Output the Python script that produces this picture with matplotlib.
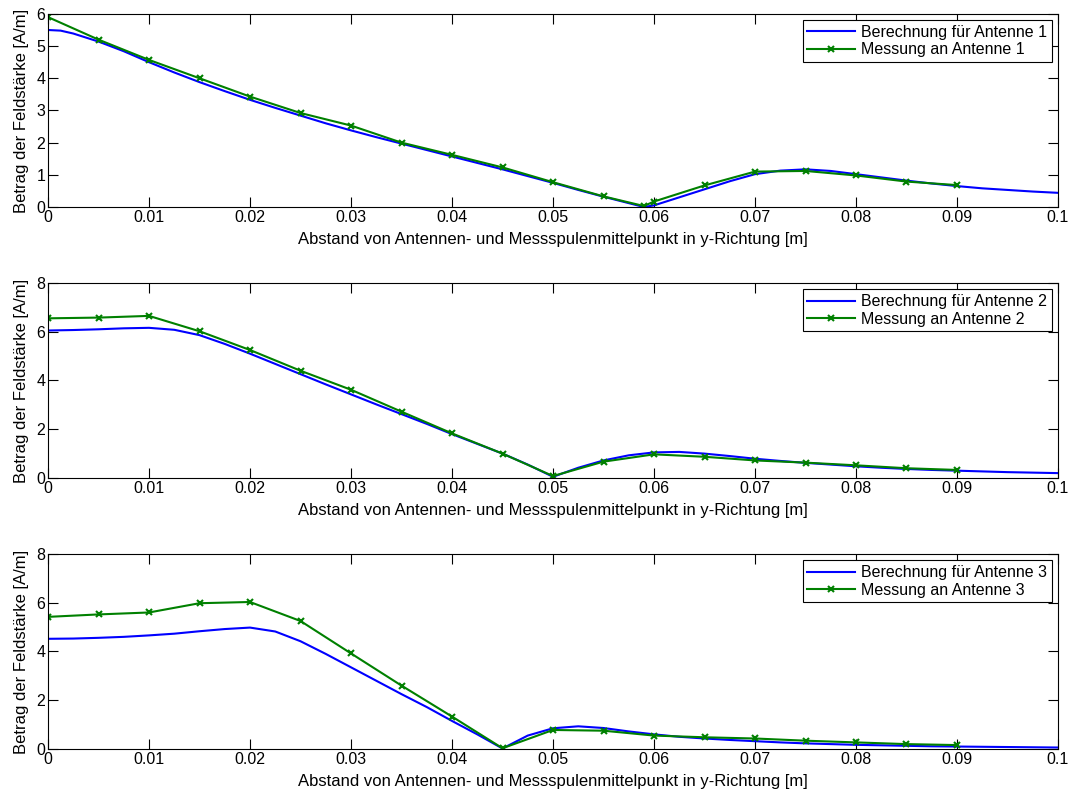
import matplotlib
matplotlib.use('Agg')
import matplotlib.pyplot as plt

plt.rcParams['font.family'] = ['Liberation Sans', 'DejaVu Sans']

# --- Daten ---
x_calc = [0, 0.0025, 0.005, 0.0075, 0.01, 0.0125, 0.015, 0.0175, 0.02, 0.0225,
          0.025, 0.0275, 0.03, 0.0325, 0.035, 0.0375, 0.04, 0.0425, 0.045, 0.0475,
          0.05, 0.0525, 0.055, 0.0575, 0.06, 0.0625, 0.065, 0.0675, 0.07, 0.0725,
          0.075, 0.0775, 0.08, 0.0825, 0.085, 0.0875, 0.09, 0.0925, 0.095, 0.0975, 0.1]

calc1_x = [0, 0.00125] + x_calc[1:24] + [0.059] + x_calc[24:]
calc1 = [5.5, 5.48, 5.39, 5.14, 4.84, 4.5, 4.18, 3.88, 3.6, 3.33, 3.08,
         2.84, 2.6, 2.38, 2.17, 1.97, 1.77, 1.57, 1.37, 1.17, 0.96,
         0.75, 0.53, 0.32, 0.12, 0.0, 0.05, 0.3, 0.55, 0.8, 1.02, 1.13,
         1.17, 1.12, 1.02, 0.92, 0.82, 0.73, 0.65, 0.58, 0.53, 0.48, 0.44]
calc2 = [6.05, 6.07, 6.1, 6.14, 6.16, 6.08, 5.86, 5.5, 5.1, 4.68,
         4.26, 3.84, 3.43, 3.02, 2.62, 2.22, 1.8, 1.4, 1.0, 0.55,
         0.05, 0.42, 0.72, 0.93, 1.05, 1.07, 1.0, 0.9, 0.79, 0.7,
         0.62, 0.55, 0.48, 0.42, 0.37, 0.33, 0.3, 0.27, 0.24, 0.22, 0.2]
calc3 = [4.52, 4.53, 4.56, 4.6, 4.66, 4.73, 4.83, 4.92, 4.98, 4.82,
         4.42, 3.9, 3.35, 2.8, 2.25, 1.72, 1.15, 0.6, 0.02, 0.55,
         0.85, 0.93, 0.86, 0.72, 0.6, 0.5, 0.43, 0.37, 0.32, 0.27,
         0.23, 0.2, 0.17, 0.15, 0.13, 0.11, 0.1, 0.09, 0.08, 0.07, 0.06]

x_meas = [0, 0.005, 0.01, 0.015, 0.02, 0.025, 0.03, 0.035, 0.04, 0.045,
          0.05, 0.055, 0.06, 0.065, 0.07, 0.075, 0.08, 0.085, 0.09]
meas1_x = x_meas[:12] + [0.059] + x_meas[12:]
meas1 = [5.9, 5.2, 4.57, 4.0, 3.43, 2.92, 2.53, 2.0, 1.62, 1.23,
         0.77, 0.33, 0.03, 0.17, 0.67, 1.1, 1.12, 0.98, 0.79, 0.68]
meas2 = [6.55, 6.58, 6.65, 6.02, 5.25, 4.4, 3.62, 2.72, 1.83, 1.0,
         0.08, 0.67, 0.97, 0.87, 0.72, 0.63, 0.52, 0.40, 0.33]
meas3 = [5.42, 5.52, 5.6, 5.98, 6.03, 5.25, 3.92, 2.6, 1.33, 0.03,
         0.78, 0.75, 0.55, 0.48, 0.43, 0.34, 0.27, 0.2, 0.16]

x_ticks = [0, 0.01, 0.02, 0.03, 0.04, 0.05, 0.06, 0.07, 0.08, 0.09, 0.1]
x_ticklabels = ['0', '0.01', '0.02', '0.03', '0.04', '0.05', '0.06', '0.07', '0.08', '0.09', '0.1']

panels = [
    (calc1_x, calc1, meas1_x, meas1, 6, [0, 1, 2, 3, 4, 5, 6], 1),
    (x_calc, calc2, x_meas, meas2, 8, [0, 2, 4, 6, 8], 2),
    (x_calc, calc3, x_meas, meas3, 8, [0, 2, 4, 6, 8], 3),
]

fs = 11.5
fig = plt.figure(figsize=(10.74, 7.94), dpi=100)
rects = [
    [0.0447, 0.7393, 0.9404, 0.2432],
    [0.0447, 0.3980, 0.9404, 0.2456],
    [0.0447, 0.0567, 0.9404, 0.2456],
]

for rect, (cx, cy, mx, my, ymax, yt, n) in zip(rects, panels):
    ax = fig.add_axes(rect)
    ax.plot(cx, cy, color='#0000ff', lw=1.5, label=f'Berechnung für Antenne {n}')
    ax.plot(mx, my, color='#008000', lw=1.5, marker='x', ms=5, mew=1.5,
            label=f'Messung an Antenne {n}')
    ax.set_xlim(0, 0.1)
    ax.set_ylim(0, ymax)
    ax.set_xticks(x_ticks)
    ax.set_xticklabels(x_ticklabels)
    ax.set_yticks(yt)
    ax.tick_params(direction='in', top=True, right=True, labelsize=fs,
                   length=7, width=0.8, pad=2)
    for s in ax.spines.values():
        s.set_linewidth(0.8)
    ax.set_xlabel('Abstand von Antennen- und Messspulenmittelpunkt in y-Richtung [m]',
                  fontsize=12, labelpad=5)
    ax.set_ylabel('Betrag der Feldstärke [A/m]', fontsize=12, labelpad=5)
    leg = ax.legend(loc='upper right', fontsize=fs, fancybox=False,
                    edgecolor='black', framealpha=1, borderaxespad=0.4,
                    handlelength=3.0, handletextpad=0.35, borderpad=0.3,
                    labelspacing=0.15)
    leg.get_frame().set_linewidth(0.8)

fig.savefig('out.png', dpi=100)
